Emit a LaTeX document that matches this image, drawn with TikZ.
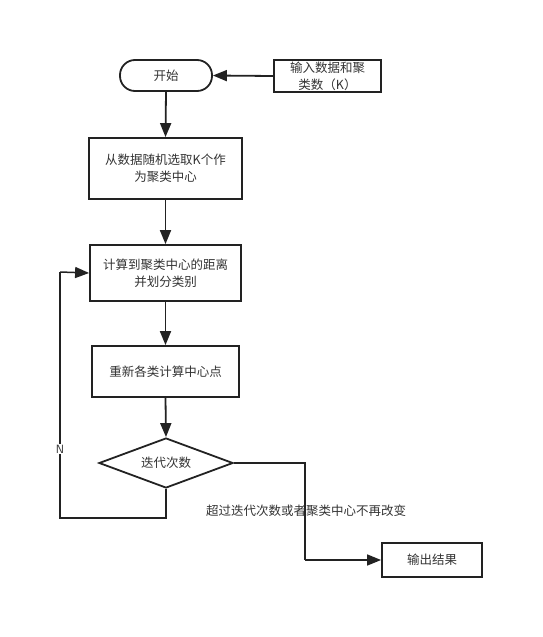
\documentclass[tikz,border=0pt]{standalone}
\usepackage{fontspec}
\setmainfont{Noto Sans CJK SC}
\usetikzlibrary{arrows.meta,shapes.geometric}
\definecolor{ln}{HTML}{222222}
\definecolor{tx}{HTML}{333333}
\begin{document}
\begin{tikzpicture}[x=1pt,y=-1pt,
  box/.style={draw=ln,line width=1.8pt,rectangle,align=center,text=tx,font=\fontsize{12.5}{17}\selectfont,inner sep=0pt},
  tip/.style={-{Triangle[length=14pt,width=11pt]}},
  conn/.style={draw=ln,line width=1.8pt,tip},
  loopl/.style={draw=ln,line width=1.5pt},
  lbl/.style={text=tx,font=\fontsize{12.5}{15}\selectfont}]
\useasboundingbox (0,0) rectangle (542,637);
\node[box,rounded corners=15pt,minimum width=92pt,minimum height=31pt] (start) at (166,75.5) {开始};
\node[box,minimum width=107pt,minimum height=32pt] (input) at (327.5,76) {输入数据和聚\\类数（K）};
\node[box,minimum width=153pt,minimum height=61pt] (sel) at (165.5,168.5) {从数据随机选取K个作\\为聚类中心};
\node[box,minimum width=151pt,minimum height=56pt] (calc) at (165.5,273) {计算到聚类中心的距离\\并划分类别};
\node[box,minimum width=147pt,minimum height=51pt] (upd) at (165.5,371.5) {重新各类计算中心点};
\node[box,diamond,aspect=2.68,minimum width=134pt,minimum height=50pt] (dec) at (166,463) {迭代次数};
\node[box,minimum width=100pt,minimum height=34pt] (out) at (432,560) {输出结果};
\coordinate (lb) at (166,518);
\coordinate (ll) at (60,518);
\coordinate (lt) at (60,272);
\coordinate (rr) at (305,463);
\coordinate (rb) at (305,560);
\draw[conn] (input.west) -- (start.east);
\draw[conn] (start.south) -- (sel.north);
\draw[conn] (sel.south) -- (calc.north);
\draw[conn] (calc.south) -- (upd.north);
\draw[conn] (upd.south) -- (dec.north);
\draw[loopl] (dec.south) -- (lb) -- (ll) -- (lt);
\draw[loopl,tip] (lt) -- (calc.west);
\node[fill=white,inner sep=1pt,font=\sffamily\fontsize{12}{14}\selectfont,text=tx] (nlab) at (60,449) {N};
\draw[loopl] (dec.east) -- (rr) -- (rb);
\draw[loopl,tip] (rb) -- (out.west);
\node[lbl] (ylab) at (306,511) {超过迭代次数或者聚类中心不再改变};
\end{tikzpicture}
\end{document}
